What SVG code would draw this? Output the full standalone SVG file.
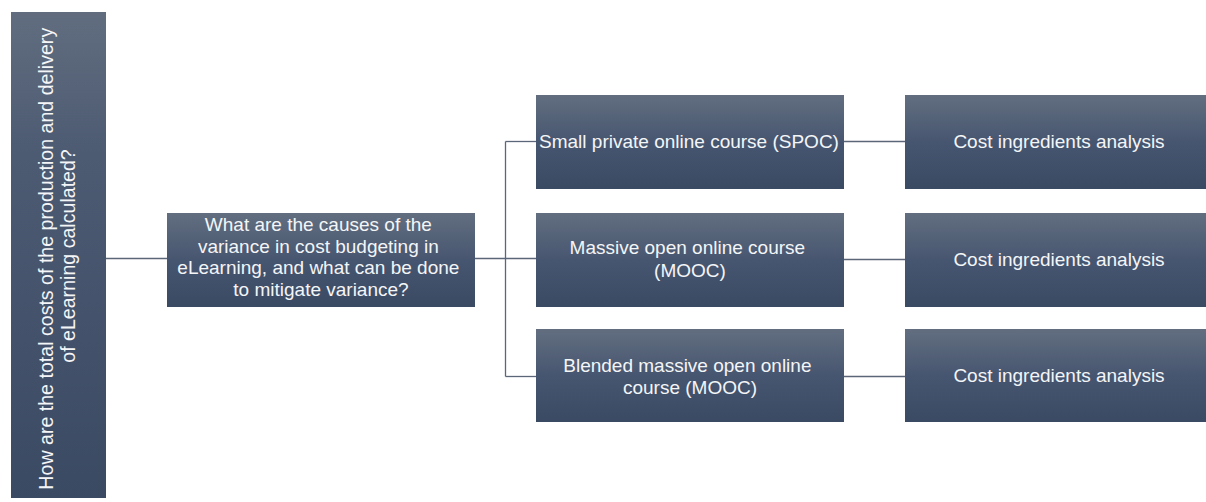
<svg xmlns="http://www.w3.org/2000/svg" width="1206" height="502" viewBox="0 0 1206 502">
  <defs>
    <linearGradient id="boxFill" x1="0" y1="0" x2="0" y2="1">
      <stop offset="0" stop-color="#626e80"/>
      <stop offset="0.5" stop-color="#475670"/>
      <stop offset="1" stop-color="#3b4a63"/>
    </linearGradient>
    <linearGradient id="boxFillH" x1="0" y1="0" x2="0" y2="1">
      <stop offset="0" stop-color="#616d7f"/>
      <stop offset="0.3" stop-color="#4c5a72"/>
      <stop offset="1" stop-color="#3b4a63"/>
    </linearGradient>
  </defs>
  <style>
    .box { fill: url(#boxFill); }
    .tall { fill: url(#boxFillH); }
    .lbl { font-family: "Liberation Sans", Arial, sans-serif; font-size: 19px; fill: #f4f5f7; text-anchor: middle; }
    .side { font-size: 19.6px; }
    .link { fill: none; stroke: #5b6678; stroke-width: 1.3; }
  </style>
  <rect width="1206" height="502" fill="#ffffff"/>

  <g id="connectors">
    <path class="link" d="M106 258.5 H167"/>
    <path class="link" d="M475 258.5 H536"/>
    <path class="link" d="M505.5 141.5 V376.5"/>
    <path class="link" d="M505.5 141.5 H536"/>
    <path class="link" d="M505.5 376.5 H536"/>
    <path class="link" d="M844 141.5 H905"/>
    <path class="link" d="M844 259.5 H905"/>
    <path class="link" d="M844 376.5 H905"/>
  </g>

  <g id="root">
    <rect class="tall" x="11" y="12" width="95" height="486"/>
    <text class="lbl side" transform="translate(53 256) rotate(-90)">
      <tspan x="0" y="0">How are the total costs of the production and delivery</tspan>
      <tspan x="0" y="22">of eLearning calculated?</tspan>
    </text>
  </g>

  <g id="question">
    <rect class="box" x="167" y="213" width="308" height="94"/>
    <text class="lbl">
      <tspan x="321" y="231">What are the causes of the</tspan>
      <tspan x="321" y="252.5">variance in cost budgeting in</tspan>
      <tspan x="321" y="274">eLearning, and what can be done</tspan>
      <tspan x="321" y="295.5">to mitigate variance?</tspan>
    </text>
  </g>

  <g id="spoc">
    <rect class="box" x="536" y="95" width="308" height="94"/>
    <text class="lbl" x="689" y="147.5">Small private online course (SPOC)</text>
  </g>

  <g id="mooc">
    <rect class="box" x="536" y="213" width="308" height="94"/>
    <text class="lbl">
      <tspan x="690" y="254">Massive open online course</tspan>
      <tspan x="690" y="277">(MOOC)</tspan>
    </text>
  </g>

  <g id="blended-mooc">
    <rect class="box" x="536" y="329" width="308" height="93"/>
    <text class="lbl">
      <tspan x="690" y="372">Blended massive open online</tspan>
      <tspan x="690" y="394">course (MOOC)</tspan>
    </text>
  </g>

  <g id="cost-spoc">
    <rect class="box" x="905" y="95" width="301" height="94"/>
    <text class="lbl" x="1059" y="148">Cost ingredients analysis</text>
  </g>

  <g id="cost-mooc">
    <rect class="box" x="905" y="213" width="301" height="94"/>
    <text class="lbl" x="1059" y="266">Cost ingredients analysis</text>
  </g>

  <g id="cost-blended">
    <rect class="box" x="905" y="329" width="301" height="93"/>
    <text class="lbl" x="1059" y="382">Cost ingredients analysis</text>
  </g>
</svg>
